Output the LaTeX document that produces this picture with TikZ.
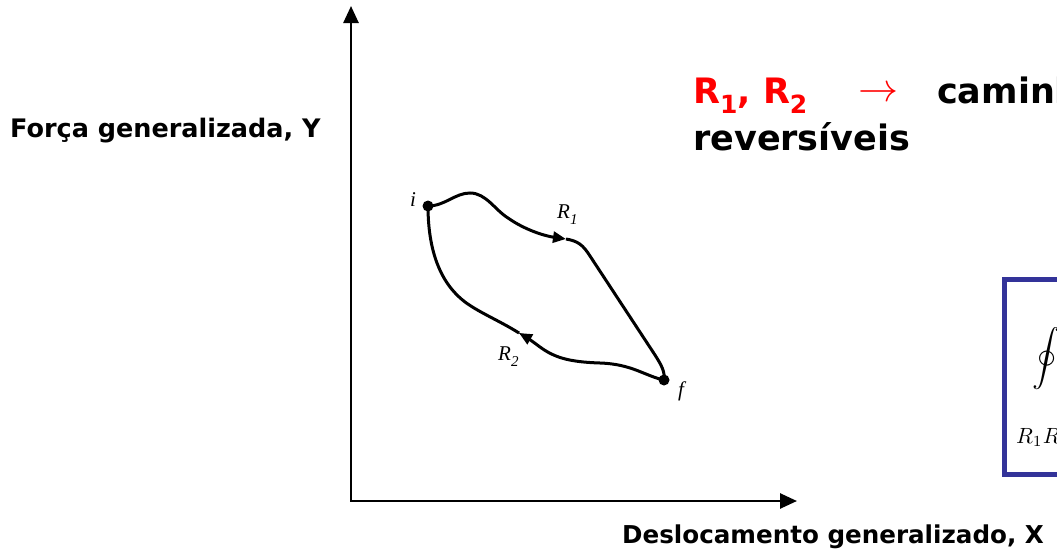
\documentclass[tikz,border=0pt]{standalone}
\usepackage{fontspec}
\usepackage{graphicx}
\usetikzlibrary{arrows.meta}
\newfontfamily\comic{DejaVu Sans}
\newfontfamily\tms{Liberation Serif}
\definecolor{boxblue}{RGB}{51,51,153}
\definecolor{tred}{RGB}{255,0,0}
\newcommand{\itl}[2]{{\tms\itshape #1}\raisebox{-0.3em}{\tms\fontsize{15}{15}\selectfont #2}}
\begin{document}
\begin{tikzpicture}[x=1pt,y=-1pt,
  axis/.style={line width=2.6pt},
  curve/.style={line width=3pt},
  dot/.style={circle, fill=black, inner sep=0pt, minimum size=11pt},
  lbl/.style={font=\comic\bfseries\fontsize{25.5}{30}\selectfont, inner sep=0pt},
  ttl/.style={font=\comic\bfseries\fontsize{35}{40}\selectfont, inner sep=0pt},
  ital/.style={font=\tms\itshape\fontsize{21}{23}\selectfont, inner sep=0pt},
  bigtip/.tip={Triangle[length=17pt,width=15pt]},
  midtip/.tip={Triangle[length=13pt,width=11pt]}]
\useasboundingbox (0,0) rectangle (1057,554);
\clip (0,0) rectangle (1057,554);
% axes
\coordinate (O) at (351,501);
\coordinate (ytip) at (351,6);
\coordinate (xtip) at (797,501);
\draw[axis, bigtip-bigtip] (ytip) -- (O) -- (xtip);
% axis labels
\node[lbl, anchor=base west] (ylab) at (10,137) {Força generalizada, Y};
\node[lbl, anchor=base west, font=\comic\bfseries\fontsize{24.6}{30}\selectfont] (xlab) at (622,543) {Deslocamento generalizado, X};
% states
\node[dot] (i) at (428,206) {};
\node[dot] (f) at (664,380) {};
\coordinate (a1) at (566,239);
\coordinate (a2) at (519,333);
% path R1
\draw[curve, -midtip] (i.center) .. controls (445,206) and (455,193) .. (470,193)
  .. controls (486,193) and (495,210) .. (508,218)
  .. controls (525,230) and (545,236) .. (a1);
\draw[curve] (a1) .. controls (578,241) and (583,245) .. (590,256) -- (655,355)
  .. controls (662,366) and (665,372) .. (f.center);
% path R2
\draw[curve, -midtip] (f.center) .. controls (645,376) and (632,364) .. (600,363)
  .. controls (570,362) and (555,358) .. (540,347)
  .. controls (532,341) and (526,337) .. (a2);
\draw[curve] (a2) .. controls (500,321) and (480,313) .. (465,302)
  .. controls (440,283) and (428,250) .. (i.center);
% labels on curve
\node[ital, anchor=base] (ilab) at (413,206) {i};
\node[ital, anchor=base] (flab) at (681,396) {f};
\node[ital, anchor=base west] (r1lab) at (557,218) {\itl{R}{1}};
\node[ital, anchor=base west] (r2lab) at (498,360) {\itl{R}{2}};
% title
\node[ttl, anchor=base west, text=tred] (t1) at (693,103) {R\raisebox{-0.3em}{\fontsize{25}{25}\selectfont 1}, R\raisebox{-0.3em}{\fontsize{25}{25}\selectfont 2}};
\node[inner sep=0pt, text=tred] (tarrow) at (878,94) {\scalebox{4}{$\rightarrow$}};
\node[ttl, anchor=base west] (t2) at (937,103) {caminhos};
\node[ttl, anchor=base west] (t3) at (693,150) {reversíveis};
% box with integral
\draw[boxblue, line width=5pt] (1004,279.5) rectangle (1100,474);
\node[inner sep=0pt] (int) at (1046,359) {\scalebox{2.8}{$\displaystyle\oint$}};
\node[inner sep=0pt, anchor=base west] (intsub) at (1016,443) {\scalebox{2.2}{$R_1R_2$}};
\end{tikzpicture}
\end{document}
